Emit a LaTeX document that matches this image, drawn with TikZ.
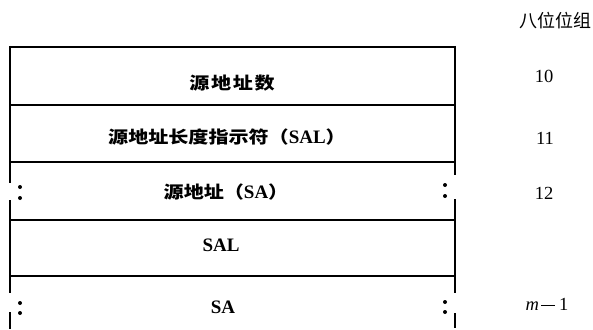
\documentclass[tikz,border=0pt]{standalone}
\usepackage{fontspec}
\setmainfont{Liberation Serif}
\newfontfamily\cjkbox{Noto Sans CJK SC}[FakeStretch=1.18]
\newfontfamily\cjkwide{Noto Sans CJK SC}[FakeStretch=1.18,LetterSpace=10]
\newfontfamily\cjkhead{Noto Sans CJK SC}
\newcommand\zh[1]{{\fontsize{17}{17}\selectfont\cjkbox #1}}
\begin{document}
\begin{tikzpicture}[x=1pt,y=-1pt]
\tikzset{
  rule/.style={line width=1.8pt,line cap=rect},
  wall/.style={line width=1.8pt},
  boxtext/.style={font=\fontsize{19}{19}\selectfont\bfseries,inner sep=0pt,anchor=center},
  numtext/.style={font=\fontsize{18.5}{18.5}\selectfont,inner sep=0pt,anchor=center},
  dotmark/.style={fill=black}
}
\useasboundingbox (0,0) rectangle (593,329);
% header
\node[inner sep=0pt,anchor=east,font=\fontsize{18}{18}\selectfont\cjkhead] (head) at (592,21) {八位位组};
% horizontal rules
\draw[rule] (10,47) -- (455,47);
\draw[rule] (10,105) -- (455,105);
\draw[rule] (10,162) -- (455,162);
\draw[rule,line width=1.5pt] (10,220) -- (455,220);
\draw[rule] (10,276) -- (455,276);
% left wall
\draw[wall] (10,46) -- (10,183);
\draw[wall] (10,200) -- (10,293);
\draw[wall] (10,312) -- (10,329);
% right wall
\draw[wall] (455,46) -- (455,175);
\draw[wall] (455,199) -- (455,293);
\draw[wall] (455,313) -- (455,328);
% dots
\fill[dotmark] (20,187) circle (2pt) (20,198) circle (2pt);
\fill[dotmark] (445,185) circle (2pt) (445,196) circle (2pt);
\fill[dotmark] (20,303) circle (2pt) (20,313) circle (2pt);
\fill[dotmark] (445,302) circle (2pt) (445,312) circle (2pt);
% row texts
\node[boxtext] (r1) at (232,83) {{\fontsize{17}{17}\selectfont\cjkwide 源地址数}};
\node[boxtext] (r2) at (227,137) {\zh{源地址长度指示符（}SAL\zh{）}};
\node[boxtext] (r3) at (226,192) {\zh{源地址（}SA\zh{）}};
\node[boxtext] (r4) at (221,245) {SAL};
\node[boxtext] (r5) at (223,307) {SA};
% numbers
\node[numtext] (n1) at (544,76) {10};
\node[numtext] (n2) at (545,138) {11};
\node[numtext] (n3) at (544,193) {12};
\node[numtext] (n5) at (547,304) {\textit{m}\hspace{2pt}\rule[0.25em]{14pt}{0.9pt}\hspace{4pt}1};
\end{tikzpicture}
\end{document}
